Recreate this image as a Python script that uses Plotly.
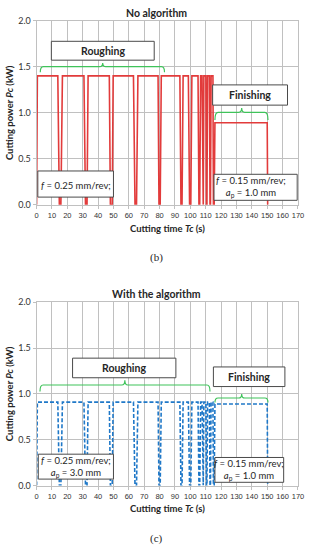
import plotly.graph_objects as go

# ---------------- data ----------------
time_no_alg = [0, 0.5, 13.8, 14.8, 15.8, 16.8, 30.8, 31.8, 32.8, 33.5, 47.3, 48.0, 49.2, 49.8,
               63.0, 64.0, 65.0, 65.9, 79.0, 79.6, 80.4, 81.1, 93.2, 93.9, 94.6, 95.3,
               98.7, 99.5, 100.3, 101.0, 105.0, 105.6, 106.1, 106.7, 107.6, 108.0, 108.4, 108.8,
               110.1, 110.5, 110.8, 111.2, 112.4, 112.8, 113.1, 113.5, 114.7, 115.0, 115.5, 116.0,
               150.0, 150.3]
power_no_alg = [0, 1.4, 1.4, 0, 0, 1.4, 1.4, 0, 0, 1.4, 1.4, 0, 0, 1.4,
                1.4, 0, 0, 1.4, 1.4, 0, 0, 1.4, 1.4, 0, 0, 1.4,
                1.4, 0, 0, 1.4, 1.4, 0, 0, 1.4, 1.4, 0, 0, 1.4,
                1.4, 0, 0, 1.4, 1.4, 0, 0, 1.4, 1.4, 0, 0, 0.89,
                0.89, 0]

time_alg = [0, 0.5, 13.8, 14.8, 15.8, 16.8, 30.8, 31.8, 32.8, 33.5, 47.3, 48.0, 49.2, 49.8,
            63.0, 64.0, 65.0, 65.9, 79.0, 79.6, 80.4, 81.1, 93.2, 93.9, 94.6, 95.3,
            98.7, 99.5, 100.3, 101.0, 105.0, 105.6, 106.1, 106.7, 107.6, 108.0, 108.4, 108.8,
            110.1, 110.5, 110.8, 111.2, 112.4, 112.8, 113.1, 113.5, 114.7, 115.0, 115.5, 116.0,
            150.0, 150.3]
power_alg = [0, 0.91, 0.91, 0, 0, 0.91, 0.91, 0, 0, 0.91, 0.91, 0, 0, 0.91,
             0.91, 0, 0, 0.91, 0.91, 0, 0, 0.91, 0.91, 0, 0, 0.91,
             0.91, 0, 0, 0.91, 0.91, 0, 0, 0.91, 0.91, 0, 0, 0.91,
             0.91, 0, 0, 0.91, 0.91, 0, 0, 0.91, 0.91, 0, 0, 0.89,
             0.89, 0]

x_ticks = list(range(0, 171, 10))
y_ticks = [0.0, 0.5, 1.0, 1.5, 2.0]

FONT = "Lato, 'Open Sans', sans-serif"
TICKFONT = "'Liberation Sans', Arial, sans-serif"
TXT = "#262626"
GRID = "#c0c0c0"
GREEN = "#3fc35a"

fig = go.Figure()
fig.add_trace(go.Scatter(x=time_no_alg, y=power_no_alg, mode="lines",
                         line=dict(color="#e23b3b", width=1.6), xaxis="x", yaxis="y",
                         showlegend=False))
fig.add_trace(go.Scatter(x=time_alg, y=power_alg, mode="lines",
                         line=dict(color="#1f78c8", width=1.6, dash="4px,2px"),
                         xaxis="x2", yaxis="y2", showlegend=False))

xd = [35.5 / 314, 303.7 / 314]
top_d = [(550 - 202.7) / 550, (550 - 15) / 550]
bot_d = [(550 - 489.3) / 550, (550 - 302.3) / 550]

def xax(anchor):
    return dict(domain=xd, range=[0, 170], tickvals=x_ticks, anchor=anchor, tickangle=0,
                showgrid=True, gridcolor=GRID, gridwidth=1, zeroline=False,
                showline=True, linecolor=GRID, mirror=True, ticks="outside",
                ticklen=3, tickcolor=GRID, tickfont=dict(size=7.5, color="#333333", family=TICKFONT),
                ticklabeloverflow="allow", fixedrange=True)

def yax(dom, anchor):
    return dict(domain=dom, range=[0, 2], tickvals=y_ticks, tickformat=".1f", anchor=anchor,
                showgrid=True, gridcolor=GRID, gridwidth=1, zeroline=False,
                showline=True, linecolor=GRID, mirror=True, ticks="outside",
                ticklen=3, tickcolor=GRID, tickfont=dict(size=9, color="#333333", family=FONT),
                fixedrange=True)

fig.update_layout(
    width=314, height=550, margin=dict(l=0, r=0, t=0, b=0),
    paper_bgcolor="white", plot_bgcolor="white",
    xaxis=xax("y"), yaxis=yax(top_d, "x"),
    xaxis2=xax("y2"), yaxis2=yax(bot_d, "x2"),
    font=dict(family=FONT, color=TXT),
)

shapes = []
ann = []

def box(xr, yr, x0, x1, y0, y1):
    shapes.append(dict(type="rect", xref=xr, yref=yr, x0=x0, x1=x1, y0=y0, y1=y1,
                       fillcolor="white", line=dict(color="#4a4a4a", width=1), layer="above"))

def brace(xr, yr, x0, x1, xc, ymid, yend, ytop, d=2.0):
    p = (f"M {x0},{yend} Q {x0},{ymid} {x0+d},{ymid} L {xc-d},{ymid} "
         f"Q {xc},{ymid} {xc},{ytop} Q {xc},{ymid} {xc+d},{ymid} "
         f"L {x1-d},{ymid} Q {x1},{ymid} {x1},{yend}")
    shapes.append(dict(type="path", xref=xr, yref=yr, path=p,
                       line=dict(color=GREEN, width=1.2), layer="above"))

def text(xr, yr, x, y, s, size=9.5, bold=False):
    if bold:
        s = f"<b>{s}</b>"
    ann.append(dict(xref=xr, yref=yr, x=x, y=y, text=s, showarrow=False,
                    font=dict(size=size, color=TXT, family=FONT),
                    xanchor="center", yanchor="middle"))

# ---- top chart decorations ----
box("x", "y", 9.6, 76.5, 1.571, 1.776)
text("x", "y", 43, 1.673, "Roughing", size=10.5, bold=True)
box("x", "y", 114.5, 163.2, 1.082, 1.302)
text("x", "y", 138.8, 1.192, "Finishing", size=10.5, bold=True)
brace("x", "y", 2.4, 83.2, 43, 1.5, 1.44, 1.54)
brace("x", "y", 116, 150.5, 133.4, 1.004, 0.92, 1.05)
box("x", "y", 0.8, 50, 0.082, 0.366)
text("x", "y", 25.5, 0.213, "<i>f</i> = 0.25 mm/rev;")
box("x", "y", 115.4, 169.5, 0.047, 0.33)
text("x", "y", 139.3, 0.19, "<i>f</i> = 0.15 mm/rev;<br><i>a</i><sub>p</sub> = 1.0 mm")

# ---- bottom chart decorations ----
box("x2", "y2", 23.4, 90.6, 1.176, 1.39)
text("x2", "y2", 57, 1.283, "Roughing", size=10.5, bold=True)
box("x2", "y2", 115, 161.5, 1.08, 1.294)
text("x2", "y2", 138.2, 1.187, "Finishing", size=10.5, bold=True)
brace("x2", "y2", 2.2, 112.8, 57.4, 1.097, 1.027, 1.15)
brace("x2", "y2", 116, 150.5, 133.4, 0.955, 0.905, 1.0)
box("x2", "y2", 1.1, 50, 0.07, 0.342)
text("x2", "y2", 25.5, 0.206, "<i>f</i> = 0.25 mm/rev;<br><i>a</i><sub>p</sub> = 3.0 mm")
box("x2", "y2", 116, 160.7, 0.035, 0.306)
text("x2", "y2", 138.4, 0.17, "<i>f</i> = 0.15 mm/rev;<br><i>a</i><sub>p</sub> = 1.0 mm")

# ---- titles & labels (paper coords) ----
def ptext(x, y, s, size=10, angle=0, fam=FONT):
    ann.append(dict(xref="paper", yref="paper", x=x, y=y, text=s, showarrow=False,
                    textangle=angle, font=dict(size=size, color=TXT, family=fam),
                    xanchor="center", yanchor="middle"))

ptext(159 / 314, (550 - 7.5) / 550, "<b>No algorithm</b>", size=10.5)
ptext(159 / 314, (550 - 294) / 550, "<b>With the algorithm</b>", size=10.5)
ptext(170 / 314, (550 - 227) / 550, "<b>Cutting time <i>Tc</i> (s)</b>", size=9.5)
ptext(170 / 314, (550 - 513) / 550, "<b>Cutting time <i>Tc</i> (s)</b>", size=9.5)
ptext(8.5 / 314, (550 - 109) / 550, "<b>Cutting power <i>Pc</i> (kW)</b>", size=9.5, angle=-90)
ptext(8.5 / 314, (550 - 395.8) / 550, "<b>Cutting power <i>Pc</i> (kW)</b>", size=9.5, angle=-90)
ptext(159 / 314, (550 - 257) / 550, "(b)", size=11, fam="'Liberation Serif', serif")
ptext(159 / 314, (550 - 543) / 550, "(c)", size=11, fam="'Liberation Serif', serif")

fig.update_layout(shapes=shapes, annotations=ann)
fig.write_html("out.html", config={"displayModeBar": False},
               post_script="document.body.style.margin='0';document.body.style.overflow='hidden';")
